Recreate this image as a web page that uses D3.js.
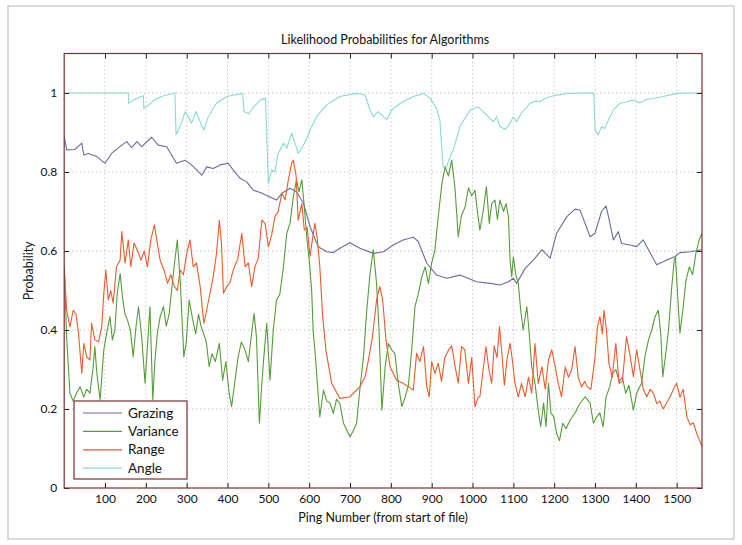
<!DOCTYPE html>
<html><head><meta charset="utf-8">
<script src="https://cdn.jsdelivr.net/npm/d3@7/dist/d3.min.js"></script>
<style>body{margin:0;background:#fff}svg{display:block}text{font-family:Lato,"Open Sans",sans-serif;fill:#111}</style>
</head><body><div id="chart"></div>
<script>
const title = "Likelihood Probabilities for Algorithms";
const xLabel = "Ping Number (from start of file)";
const yLabel = "Probability";
const xTicks = [100,200,300,400,500,600,700,800,900,1000,1100,1200,1300,1400,1500];
const yTicks = [0,0.2,0.4,0.6,0.8,1];
const seriesNames = ["Grazing","Variance","Range","Angle"];

const grazingPing = [0,6,26,43,48,59,80,100,116,141,153,165,178,190,214,230,251,275,296,312,337,349,365,382,402,414,431,447,463,480,504,520,533,553,569,586,602,622,643,659,675,700,724,757,782,806,830,855,867,888,912,937,969,1010,1043,1067,1088,1100,1108,1129,1149,1170,1190,1206,1231,1251,1263,1288,1300,1316,1327,1333,1345,1357,1365,1386,1402,1418,1431,1451,1476,1496,1508,1533,1562];
const grazingVal = [0.89,0.856,0.857,0.873,0.843,0.847,0.839,0.822,0.847,0.868,0.877,0.862,0.877,0.864,0.888,0.868,0.864,0.822,0.830,0.818,0.792,0.813,0.809,0.818,0.822,0.805,0.784,0.775,0.754,0.748,0.737,0.729,0.746,0.759,0.750,0.721,0.662,0.611,0.598,0.596,0.607,0.621,0.607,0.594,0.598,0.615,0.628,0.635,0.624,0.569,0.539,0.531,0.539,0.522,0.518,0.514,0.522,0.531,0.518,0.556,0.577,0.603,0.582,0.645,0.687,0.706,0.704,0.636,0.645,0.700,0.714,0.687,0.628,0.649,0.619,0.615,0.611,0.628,0.603,0.565,0.577,0.586,0.596,0.598,0.603];

const variancePing = [0,6,14,22,30,39,48,55,63,71,75,80,88,97,104,112,118,124,130,137,143,149,155,162,169,176,182,190,198,204,210,217,222,228,235,243,250,257,264,271,277,284,289,293,299,306,314,322,329,335,341,348,355,362,370,380,388,396,404,410,418,426,434,443,451,459,465,471,478,484,488,496,504,512,520,528,537,545,553,561,569,575,582,588,594,600,606,610,614,620,626,635,643,651,659,667,675,684,692,700,708,716,724,733,741,749,757,765,771,778,786,794,802,810,818,827,835,843,851,859,867,876,884,892,900,908,916,925,933,941,949,957,965,973,982,990,998,1006,1012,1018,1026,1034,1041,1047,1055,1061,1067,1076,1082,1088,1092,1096,1100,1106,1112,1118,1124,1133,1139,1145,1153,1161,1167,1174,1180,1186,1192,1199,1206,1213,1221,1229,1239,1251,1263,1276,1288,1296,1304,1312,1320,1327,1336,1343,1351,1359,1367,1375,1383,1394,1402,1414,1422,1431,1439,1447,1455,1461,1466,1472,1480,1488,1494,1497,1504,1508,1515,1523,1531,1539,1547,1555,1562];
const varianceVal = [0.56,0.383,0.24,0.22,0.24,0.256,0.23,0.25,0.24,0.307,0.358,0.29,0.223,0.35,0.392,0.434,0.375,0.40,0.493,0.543,0.48,0.44,0.425,0.40,0.332,0.41,0.459,0.38,0.265,0.36,0.459,0.223,0.32,0.39,0.434,0.46,0.41,0.44,0.51,0.577,0.628,0.527,0.42,0.332,0.37,0.476,0.43,0.39,0.44,0.41,0.392,0.37,0.307,0.34,0.32,0.366,0.273,0.32,0.24,0.206,0.27,0.332,0.37,0.349,0.32,0.392,0.442,0.38,0.164,0.265,0.32,0.417,0.273,0.40,0.476,0.49,0.56,0.645,0.67,0.737,0.78,0.75,0.78,0.712,0.636,0.577,0.501,0.392,0.35,0.265,0.18,0.248,0.22,0.215,0.189,0.225,0.214,0.164,0.147,0.13,0.145,0.164,0.248,0.332,0.45,0.543,0.603,0.518,0.40,0.197,0.307,0.366,0.35,0.34,0.265,0.206,0.23,0.26,0.349,0.459,0.49,0.535,0.56,0.518,0.57,0.603,0.687,0.771,0.813,0.79,0.83,0.76,0.636,0.69,0.712,0.76,0.74,0.754,0.70,0.653,0.70,0.763,0.67,0.72,0.729,0.68,0.729,0.70,0.72,0.687,0.577,0.535,0.585,0.54,0.518,0.45,0.40,0.459,0.39,0.307,0.265,0.197,0.155,0.215,0.155,0.265,0.19,0.18,0.138,0.12,0.164,0.15,0.172,0.19,0.214,0.231,0.215,0.164,0.18,0.19,0.155,0.231,0.256,0.29,0.30,0.27,0.28,0.24,0.26,0.197,0.24,0.265,0.332,0.375,0.40,0.434,0.45,0.39,0.282,0.33,0.40,0.51,0.577,0.585,0.459,0.392,0.45,0.527,0.56,0.54,0.594,0.628,0.645];

const rangePing = [0,6,14,22,29,35,43,48,55,63,67,75,84,92,97,102,108,114,120,128,137,141,149,157,163,171,180,188,196,204,212,221,228,235,245,253,261,270,277,284,292,300,308,316,324,333,342,349,357,365,373,380,385,390,398,406,414,425,435,443,451,459,467,475,484,492,500,508,516,524,533,541,549,557,561,568,573,582,588,595,602,608,614,620,626,633,641,655,675,700,724,737,745,755,765,773,780,788,798,814,830,843,855,863,871,880,888,894,900,908,916,924,932,941,949,957,965,973,981,990,998,1006,1014,1018,1026,1033,1040,1047,1053,1060,1066,1072,1078,1085,1092,1098,1104,1112,1120,1129,1137,1145,1153,1161,1170,1178,1186,1194,1202,1210,1218,1227,1235,1243,1251,1259,1267,1275,1281,1290,1300,1306,1312,1318,1322,1328,1334,1342,1351,1359,1367,1377,1385,1394,1402,1410,1418,1427,1435,1443,1451,1459,1467,1475,1484,1492,1500,1508,1516,1525,1533,1541,1549,1556,1562];
const rangeVal = [0.56,0.45,0.408,0.45,0.44,0.392,0.29,0.366,0.332,0.324,0.417,0.375,0.37,0.408,0.493,0.552,0.476,0.5,0.468,0.56,0.577,0.649,0.569,0.628,0.56,0.62,0.6,0.577,0.6,0.56,0.628,0.666,0.62,0.577,0.55,0.518,0.54,0.51,0.50,0.552,0.54,0.594,0.628,0.56,0.57,0.51,0.417,0.45,0.493,0.535,0.594,0.678,0.62,0.493,0.51,0.52,0.552,0.58,0.645,0.56,0.57,0.51,0.56,0.58,0.678,0.67,0.611,0.64,0.687,0.70,0.746,0.73,0.78,0.822,0.83,0.79,0.678,0.72,0.653,0.66,0.586,0.63,0.67,0.63,0.56,0.434,0.349,0.265,0.227,0.231,0.256,0.282,0.324,0.383,0.476,0.51,0.476,0.375,0.307,0.273,0.265,0.256,0.248,0.341,0.32,0.358,0.256,0.231,0.32,0.29,0.316,0.27,0.33,0.349,0.36,0.31,0.265,0.358,0.35,0.265,0.33,0.206,0.23,0.231,0.3,0.358,0.3,0.265,0.36,0.33,0.408,0.34,0.26,0.33,0.366,0.32,0.265,0.231,0.265,0.231,0.28,0.24,0.366,0.265,0.307,0.25,0.324,0.35,0.31,0.265,0.231,0.307,0.28,0.30,0.358,0.28,0.256,0.27,0.256,0.25,0.332,0.408,0.434,0.39,0.45,0.40,0.316,0.28,0.366,0.265,0.27,0.383,0.34,0.282,0.35,0.3,0.25,0.231,0.25,0.24,0.214,0.22,0.2,0.215,0.231,0.25,0.265,0.23,0.25,0.18,0.16,0.165,0.138,0.12,0.105];

const anglePing = [0,157,158,170,185,194,195,205,220,240,271,274,288,296,304,312,323,333,342,353,373,398,437,440,452,460,480,493,500,508,516,524,537,545,557,565,573,582,594,602,618,643,675,716,737,749,757,769,777,790,802,823,855,880,896,912,920,925,928,937,945,953,969,994,1014,1034,1051,1059,1067,1080,1090,1100,1108,1120,1141,1155,1165,1175,1190,1231,1297,1300,1308,1316,1324,1333,1345,1361,1378,1394,1410,1427,1443,1467,1500,1562];
const angleVal = [1.0,1.0,0.974,0.982,0.99,0.993,0.961,0.968,0.982,0.992,1.0,0.894,0.927,0.953,0.94,0.923,0.953,0.927,0.906,0.94,0.974,0.991,0.999,0.953,0.947,0.96,0.982,0.987,0.771,0.805,0.80,0.847,0.873,0.86,0.898,0.873,0.847,0.86,0.885,0.906,0.94,0.97,0.991,0.999,0.995,0.957,0.94,0.953,0.945,0.932,0.957,0.974,0.991,0.999,0.987,0.961,0.932,0.856,0.813,0.815,0.839,0.856,0.915,0.957,0.965,0.945,0.927,0.94,0.915,0.908,0.92,0.94,0.927,0.95,0.974,0.98,0.978,0.985,0.991,0.999,1.0,0.906,0.894,0.915,0.91,0.932,0.957,0.974,0.978,0.982,0.975,0.984,0.986,0.991,0.999,1.0];

const colors = {Grazing:"#6b6b9f", Variance:"#559c3a", Range:"#ee5a2c", Angle:"#8adbcd"};
const frameColor = "#7b2e2e";

const W = 742, H = 545;
const M = {left:64.2, top:53.5};
const pw = 702 - M.left, ph = 488 - M.top;

const svg = d3.select("#chart").append("svg").attr("width",W).attr("height",H);
svg.append("rect").attr("x",8).attr("y",6).attr("width",726).attr("height",533)
  .attr("fill","none").attr("stroke","#cfcfcf").attr("stroke-width",1.5);

const x = d3.scaleLinear().domain([0,1562]).range([0,pw]);
const y = d3.scaleLinear().domain([0,1.1]).range([ph,0]);
const g = svg.append("g").attr("transform",`translate(${M.left},${M.top})`);

// grid
g.append("g").selectAll("line").data(xTicks).join("line")
  .attr("x1",d=>x(d)).attr("x2",d=>x(d)).attr("y1",0).attr("y2",ph)
  .attr("stroke","#b0b0b0").attr("stroke-dasharray","1,3");
g.append("g").selectAll("line").data(yTicks.filter(d=>d>0)).join("line")
  .attr("y1",d=>y(d)).attr("y2",d=>y(d)).attr("x1",0).attr("x2",pw)
  .attr("stroke","#b0b0b0").attr("stroke-dasharray","1,3");

// series
const seriesData = {
  Grazing: grazingPing.map((p,i)=>[p,grazingVal[i]]),
  Variance: variancePing.map((p,i)=>[p,varianceVal[i]]),
  Range: rangePing.map((p,i)=>[p,rangeVal[i]]),
  Angle: anglePing.map((p,i)=>[p,angleVal[i]])
};
const line = d3.line().x(d=>x(d[0])).y(d=>y(d[1]));
g.append("clipPath").attr("id","clip").append("rect").attr("width",pw).attr("height",ph);
seriesNames.forEach(n=>{
  g.append("path").datum(seriesData[n]).attr("d",line).attr("fill","none")
    .attr("stroke",colors[n]).attr("stroke-width",1.1).attr("stroke-linejoin","round")
    .attr("clip-path","url(#clip)");
});

// axes (ticks inward, on all sides)
const tl = 5;
const axB = g.append("g").attr("transform",`translate(0,${ph})`).call(d3.axisBottom(x).tickValues(xTicks).tickSize(-tl).tickPadding(6).tickFormat(d3.format("d")).tickSizeOuter(0));
const axT = g.append("g").call(d3.axisTop(x).tickValues(xTicks).tickSize(-tl).tickFormat("").tickSizeOuter(0));
const axL = g.append("g").call(d3.axisLeft(y).tickValues(yTicks).tickSize(-tl).tickPadding(7).tickFormat(d3.format("~g")).tickSizeOuter(0));
const axR = g.append("g").attr("transform",`translate(${pw},0)`).call(d3.axisRight(y).tickValues(yTicks).tickSize(-tl).tickFormat("").tickSizeOuter(0));
[axB,axT,axL,axR].forEach(a=>{
  a.select(".domain").remove();
  a.selectAll(".tick line").attr("stroke","#222");
  a.selectAll("text").style("font-size","12px").attr("fill","#111");
});
g.append("rect").attr("width",pw).attr("height",ph).attr("fill","none").attr("stroke",frameColor).attr("stroke-width",1.2);

// labels
svg.append("text").attr("x",M.left+pw/2+2).attr("y",44).attr("text-anchor","middle").style("font-size","12.5px").text(title);
svg.append("text").attr("x",M.left+pw/2).attr("y",522).attr("text-anchor","middle").style("font-size","12.5px").text(xLabel);
svg.append("text").attr("transform",`translate(33,${M.top+ph/2}) rotate(-90)`).attr("text-anchor","middle").style("font-size","12.5px").text(yLabel);

// legend
const lg = svg.append("g").attr("transform","translate(74,401)");
lg.append("rect").attr("width",113).attr("height",78).attr("fill","#fff").attr("stroke",frameColor).attr("stroke-width",1.2);
seriesNames.forEach((n,i)=>{
  const yy = 12 + i*18.4;
  lg.append("line").attr("x1",9).attr("x2",48).attr("y1",yy).attr("y2",yy).attr("stroke",colors[n]).attr("stroke-width",1.2);
  lg.append("text").attr("x",54).attr("y",yy+4.5).style("font-size","13.5px").text(n);
});
</script></body></html>
